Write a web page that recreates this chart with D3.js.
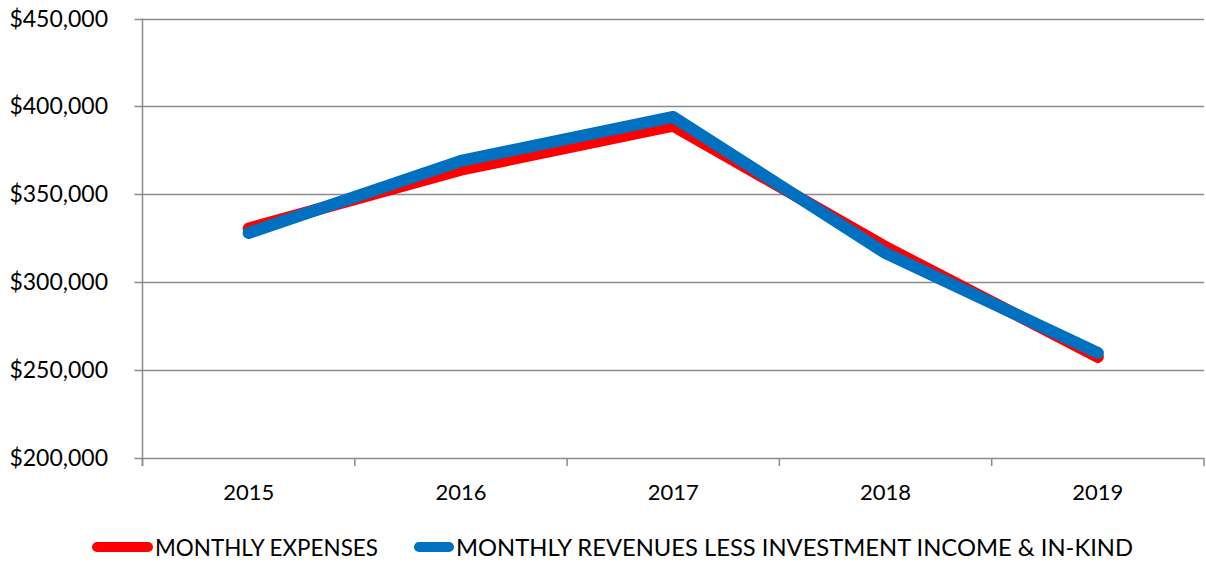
<!DOCTYPE html>
<html>
<head>
<meta charset="utf-8">
<script src="https://cdn.jsdelivr.net/npm/d3@7"></script>
<style>
  body { margin: 0; background: #fff; }
  svg text { font-family: Lato, "Open Sans", sans-serif; fill: #000; }
</style>
</head>
<body>
<svg id="chart" width="1206" height="562"></svg>
<script>
var years = ['2015', '2016', '2017', '2018', '2019'];
var expenses = [330500, 364000, 389000, 320000, 257500];
var revenues = [328000, 369000, 394000, 316500, 259800];
var yTicks = [200000, 250000, 300000, 350000, 400000, 450000];
var seriesNames = ['MONTHLY EXPENSES', 'MONTHLY REVENUES LESS INVESTMENT INCOME & IN-KIND'];
var seriesColors = ['#ff0000', '#0070c0'];

var svg = d3.select('#chart');
var plotLeft = 142.5, plotRight = 1204, plotTop = 18.5, plotBottom = 458;

var x = d3.scaleBand().domain(years).range([plotLeft, plotRight]);
var y = d3.scaleLinear().domain([200000, 450000]).range([plotBottom, plotTop]);

// gridlines
svg.append('g').selectAll('line').data(yTicks).join('line')
  .attr('x1', plotLeft - 8).attr('x2', plotRight)
  .attr('y1', d => Math.round(y(d)) + 0.5).attr('y2', d => Math.round(y(d)) + 0.5)
  .attr('stroke', '#8c8c8c').attr('stroke-width', 1.5);

// y axis line
svg.append('line').attr('x1', plotLeft).attr('x2', plotLeft).attr('y1', plotTop).attr('y2', plotBottom + 8)
  .attr('stroke', '#8c8c8c').attr('stroke-width', 1.5);

// x ticks at category boundaries
var bounds = years.map(d => x(d)).concat([plotRight]);
svg.append('g').selectAll('line').data(bounds).join('line')
  .attr('x1', d => d).attr('x2', d => d).attr('y1', plotBottom).attr('y2', plotBottom + 8)
  .attr('stroke', '#8c8c8c').attr('stroke-width', 1.5);

// y labels
var fmt = d3.format('$,');
svg.append('g').selectAll('text').data(yTicks).join('text')
  .attr('x', 108).attr('y', d => y(d) + 8)
  .attr('text-anchor', 'end').attr('font-size', 23)
  .text(d => fmt(d));

// x labels
svg.append('g').selectAll('text').data(years).join('text')
  .attr('x', d => x(d) + x.bandwidth() / 2).attr('y', 500)
  .attr('text-anchor', 'middle').attr('font-size', 22)
  .text(d => d);

// lines
var line = d3.line()
  .x((d, i) => x(years[i]) + x.bandwidth() / 2)
  .y(d => y(d));

[expenses, revenues].forEach(function (vals, i) {
  svg.append('path').datum(vals)
    .attr('d', line)
    .attr('fill', 'none')
    .attr('stroke', seriesColors[i])
    .attr('stroke-width', 12)
    .attr('stroke-linecap', 'round')
    .attr('stroke-linejoin', 'round');
});

// legend: line start, line end, text start, text width
var legendPos = [[97, 148, 155, 223], [419, 449, 456, 677]];
seriesNames.forEach(function (name, i) {
  var p = legendPos[i];
  var g = svg.append('g');
  g.append('line')
    .attr('x1', p[0]).attr('x2', p[1])
    .attr('y1', 547).attr('y2', 547)
    .attr('stroke', seriesColors[i]).attr('stroke-width', 10)
    .attr('stroke-linecap', 'round');
  g.append('text')
    .attr('x', p[2]).attr('y', 556)
    .attr('font-size', 22.5)
    .attr('textLength', p[3]).attr('lengthAdjust', 'spacingAndGlyphs')
    .text(name);
});
</script>
</body>
</html>
